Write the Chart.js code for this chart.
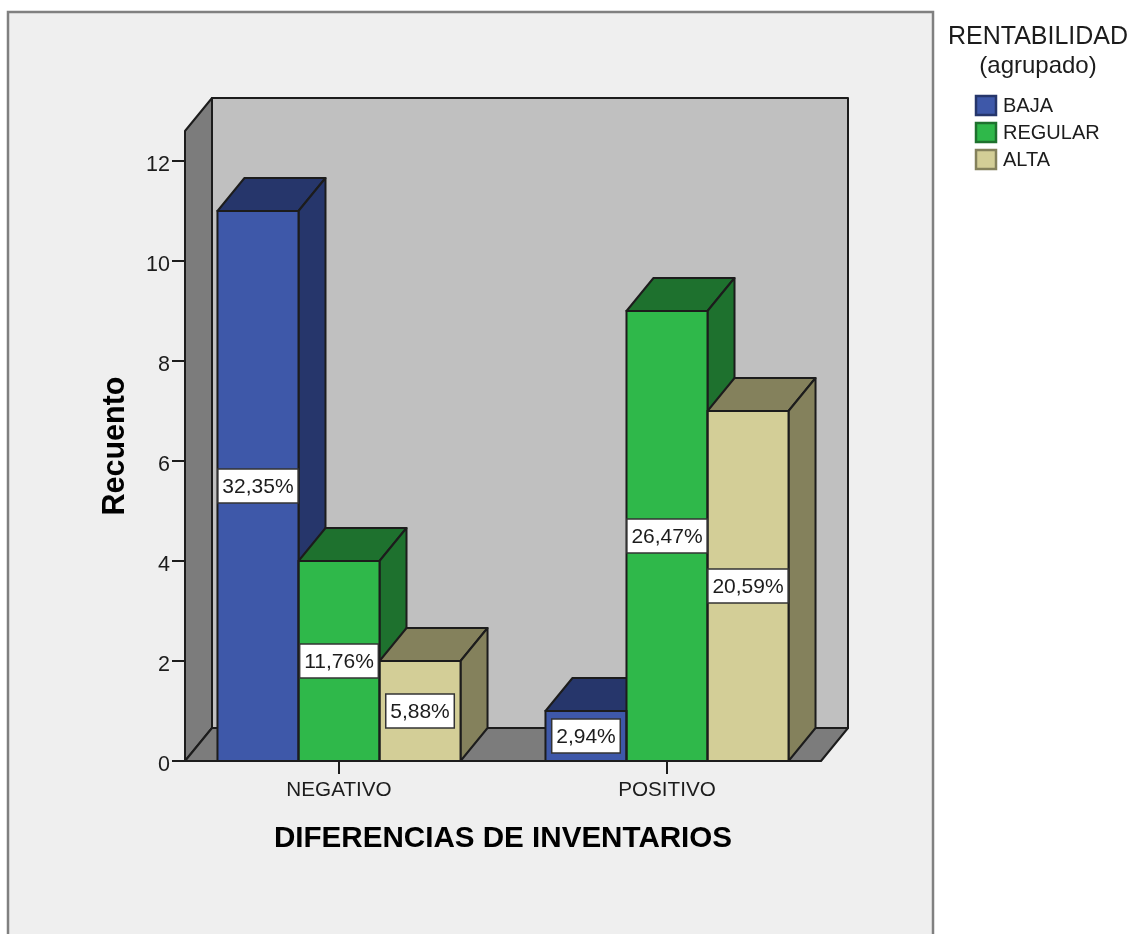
<!DOCTYPE html>
<html lang="es">
<head>
<meta charset="utf-8">
<title>Recuento por diferencias de inventarios</title>
<script src="https://cdn.jsdelivr.net/npm/chart.js@4/dist/chart.umd.min.js"></script>
<style>
    html, body { margin: 0; padding: 0; background: #fff; overflow: hidden; }
    #grafico { display: block; }
</style>
</head>
<body>
<canvas id="grafico" width="1133" height="934"></canvas>
<script>
// Datos del grafico
const categorias = ['NEGATIVO', 'POSITIVO'];
const serieBaja = [11, 1];
const serieRegular = [4, 9];
const serieAlta = [2, 7];
const etiquetasBaja = ['32,35%', '2,94%'];
const etiquetasRegular = ['11,76%', '26,47%'];
const etiquetasAlta = ['5,88%', '20,59%'];
const ticksY = [0, 2, 4, 6, 8, 10, 12];

const FUENTE = '"Liberation Sans", Arial, sans-serif';
const TINTA = '#1c1c1c';
const FONDO_X = 27;   // profundidad horizontal del efecto 3D
const FONDO_Y = 33;   // profundidad vertical del efecto 3D

function poligono(ctx, puntos, relleno) {
    ctx.beginPath();
    puntos.forEach((p, i) => i ? ctx.lineTo(p[0], p[1]) : ctx.moveTo(p[0], p[1]));
    ctx.closePath();
    ctx.fillStyle = relleno;
    ctx.fill();
    ctx.stroke();
}

// Marco exterior, paredes y suelo del grafico 3D, marcas de los ejes
const pluginFondo = {
    id: 'fondo3d',
    beforeDraw(chart) {
        const ctx = chart.ctx;
        const y = chart.scales.y;
        const x = chart.scales.x;
        const izq = chart.chartArea.left + 10;
        const der = chart.chartArea.right - 10;
        const sup = y.getPixelForValue(y.max);
        const inf = y.getPixelForValue(0);

        ctx.save();
        ctx.fillStyle = '#efefef';
        ctx.strokeStyle = '#808080';
        ctx.lineWidth = 2.5;
        ctx.fillRect(8, 12, 925, 930);
        ctx.strokeRect(8, 12, 925, 930);

        ctx.strokeStyle = TINTA;
        ctx.lineWidth = 2;
        ctx.lineJoin = 'round';
        poligono(ctx, [[izq + FONDO_X, sup - FONDO_Y], [der + FONDO_X, sup - FONDO_Y], [der + FONDO_X, inf - FONDO_Y], [izq + FONDO_X, inf - FONDO_Y]], '#c0c0c0');
        poligono(ctx, [[izq, inf], [izq, sup], [izq + FONDO_X, sup - FONDO_Y], [izq + FONDO_X, inf - FONDO_Y]], '#7c7c7c');
        poligono(ctx, [[izq, inf], [der, inf], [der + FONDO_X, inf - FONDO_Y], [izq + FONDO_X, inf - FONDO_Y]], '#7c7c7c');

        ctx.beginPath();
        ticksY.forEach(v => {
            const py = Math.round(y.getPixelForValue(v));
            ctx.moveTo(izq - 13, py);
            ctx.lineTo(izq, py);
        });
        categorias.forEach((c, i) => {
            const px = Math.round(x.getPixelForTick(i));
            ctx.moveTo(px, inf);
            ctx.lineTo(px, inf + 13);
        });
        ctx.stroke();

        // Numeros del eje Y, un poco por debajo de su marca
        ctx.fillStyle = TINTA;
        ctx.font = '21.5px ' + FUENTE;
        ctx.textAlign = 'right';
        ctx.textBaseline = 'middle';
        ticksY.forEach(v => ctx.fillText(String(v), izq - 15, y.getPixelForValue(v) + 4));
        ctx.restore();
    },
    // Caras superior y lateral de cada barra, antes de las caras frontales
    beforeDatasetsDraw(chart) {
        const ctx = chart.ctx;
        ctx.save();
        ctx.strokeStyle = TINTA;
        ctx.lineWidth = 2;
        ctx.lineJoin = 'round';
        chart.data.datasets.forEach((ds, d) => {
            chart.getDatasetMeta(d).data.forEach(barra => {
                const a = barra.x - barra.width / 2;
                const b = barra.x + barra.width / 2;
                poligono(ctx, [[a, barra.y], [b, barra.y], [b + FONDO_X, barra.y - FONDO_Y], [a + FONDO_X, barra.y - FONDO_Y]], ds.colorOscuro);
                poligono(ctx, [[b, barra.y], [b, barra.base], [b + FONDO_X, barra.base - FONDO_Y], [b + FONDO_X, barra.y - FONDO_Y]], ds.colorOscuro);
            });
        });
        ctx.restore();
    },
    // Contorno de las barras, etiquetas de porcentaje y leyenda
    afterDatasetsDraw(chart) {
        const ctx = chart.ctx;
        const y = chart.scales.y;
        const inf = y.getPixelForValue(0);
        ctx.save();
        ctx.strokeStyle = TINTA;
        ctx.lineWidth = 2;
        chart.data.datasets.forEach((ds, d) => {
            chart.getDatasetMeta(d).data.forEach(barra => {
                ctx.strokeRect(barra.x - barra.width / 2, barra.y, barra.width, barra.base - barra.y);
            });
        });

        ctx.beginPath();
        ctx.moveTo(chart.chartArea.left - 3, inf);
        ctx.lineTo(chart.chartArea.right - 10, inf);
        ctx.stroke();

        ctx.font = '21px ' + FUENTE;
        ctx.textAlign = 'center';
        ctx.textBaseline = 'middle';
        chart.data.datasets.forEach((ds, d) => {
            chart.getDatasetMeta(d).data.forEach((barra, i) => {
                const texto = ds.etiquetas[i];
                const medio = (barra.y + barra.base) / 2;
                const ancho = ctx.measureText(texto).width + 9;
                ctx.fillStyle = '#fff';
                ctx.strokeStyle = '#333';
                ctx.lineWidth = 1.5;
                ctx.fillRect(barra.x - ancho / 2, medio - 17, ancho, 34);
                ctx.strokeRect(barra.x - ancho / 2, medio - 17, ancho, 34);
                ctx.fillStyle = TINTA;
                ctx.fillText(texto, barra.x, medio + 1);
            });
        });

        // Leyenda
        ctx.fillStyle = TINTA;
        ctx.font = '25px ' + FUENTE;
        ctx.fillText('RENTABILIDAD', 1038, 37);
        ctx.font = '24px ' + FUENTE;
        ctx.fillText('(agrupado)', 1038, 66);
        ctx.textAlign = 'left';
        ctx.font = '20px ' + FUENTE;
        chart.data.datasets.forEach((ds, d) => {
            const cy = 105.5 + d * 27;
            ctx.fillStyle = ds.backgroundColor;
            ctx.strokeStyle = ds.colorOscuro;
            ctx.lineWidth = 2.5;
            ctx.fillRect(976, cy - 9.5, 20, 19);
            ctx.strokeRect(976, cy - 9.5, 20, 19);
            ctx.fillStyle = TINTA;
            ctx.fillText(ds.label, 1003, cy + 1);
        });
        ctx.restore();
    }
};

new Chart(document.getElementById('grafico').getContext('2d'), {
    type: 'bar',
    data: {
        labels: categorias,
        datasets: [
            { label: 'BAJA', data: serieBaja, etiquetas: etiquetasBaja, backgroundColor: '#3e58a9', colorOscuro: '#26366b' },
            { label: 'REGULAR', data: serieRegular, etiquetas: etiquetasRegular, backgroundColor: '#2fb84a', colorOscuro: '#1e712e' },
            { label: 'ALTA', data: serieAlta, etiquetas: etiquetasAlta, backgroundColor: '#d3ce97', colorOscuro: '#84815c' }
        ]
    },
    plugins: [pluginFondo],
    options: {
        responsive: false,
        animation: false,
        layout: { padding: { top: 131, right: 302, left: 0, bottom: 0 } },
        categoryPercentage: 0.741,
        barPercentage: 1,
        plugins: { legend: { display: false }, tooltip: { enabled: false } },
        scales: {
            x: {
                grid: { display: false, drawTicks: false },
                border: { display: false },
                afterFit(scale) { scale.height = 173; },
                ticks: { padding: 17, maxRotation: 0, color: TINTA, font: { family: FUENTE, size: 20.7 } },
                title: {
                    display: true,
                    text: 'DIFERENCIAS DE INVENTARIOS',
                    color: '#000',
                    padding: { top: 0, bottom: 77 },
                    font: { family: FUENTE, size: 29.6, weight: 'bold' }
                }
            },
            y: {
                min: 0,
                max: 12.6,
                grid: { display: false, drawTicks: false },
                border: { display: false },
                afterFit(scale) { scale.width = 175; },
                afterBuildTicks(scale) { scale.ticks = ticksY.map(v => ({ value: v })); },
                ticks: { display: false },
                title: {
                    display: true,
                    text: 'Recuento',
                    color: '#000',
                    padding: { top: 97, bottom: 0 },
                    font: { family: FUENTE, size: 30.5, weight: 'bold' }
                }
            }
        }
    }
});
</script>
</body>
</html>
